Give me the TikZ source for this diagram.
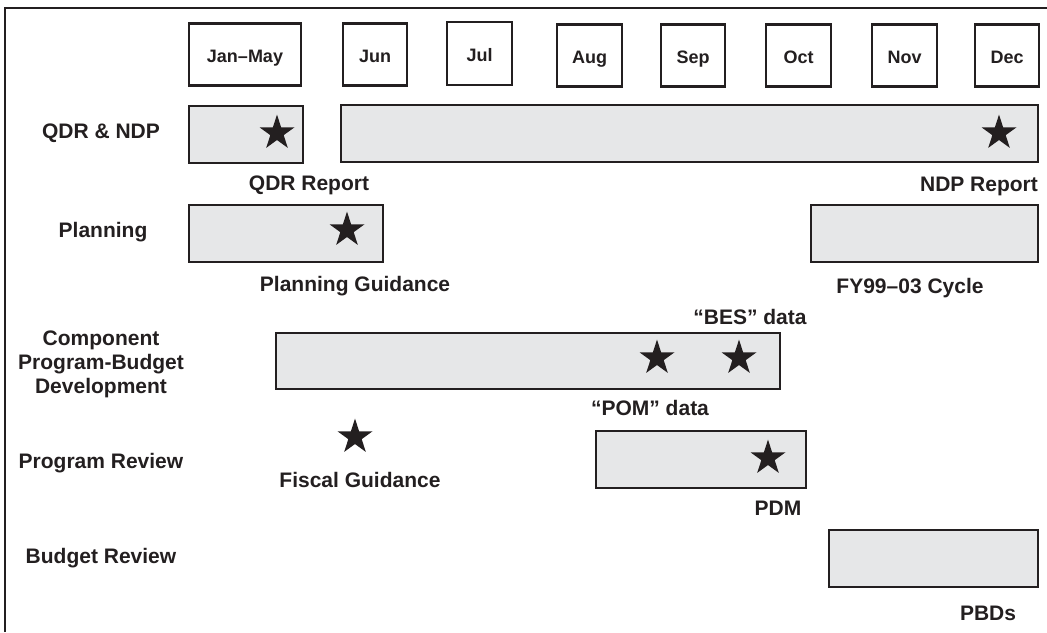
\documentclass[tikz,border=0pt]{standalone}
\usepackage{fontspec}
\setmainfont{Liberation Sans}
\usetikzlibrary{shapes.geometric}
\pgfdeclarelayer{edgelayer}
\pgfdeclarelayer{nodelayer}
\pgfsetlayers{edgelayer,nodelayer,main}
\definecolor{ink}{HTML}{231F20}
\definecolor{barfill}{HTML}{E6E7E8}
\tikzstyle{month}=[rectangle,draw=ink,line width=1.1pt,fill=white,minimum height=31pt,inner sep=0pt,text height=8pt,text depth=0pt,font=\fontsize{9}{10}\selectfont\bfseries,text=ink]
\tikzstyle{bar}=[rectangle,draw=ink,line width=1.1pt,fill=barfill,minimum height=28.5pt,inner sep=0pt]
\tikzstyle{milestone}=[star,star points=5,star point ratio=2.618,fill=ink,minimum size=18.4pt,inner sep=0pt]
\tikzstyle{rowlabel}=[align=center,font=\fontsize{10.5}{12}\selectfont\bfseries,text=ink,inner sep=0pt]
\tikzstyle{event}=[font=\fontsize{10.5}{12}\selectfont\bfseries,text=ink,inner sep=0pt,text height=7.5pt,text depth=0pt]
\tikzstyle{frame}=[-,draw=ink,line width=1.3pt]

\begin{document}
\begin{tikzpicture}[x=0.5pt,y=-0.5pt]
	\useasboundingbox (0, 0) rectangle (1047, 632);
	\draw [style=frame] (5, 632) |- (1047, 8);
	% months
	\begin{pgfonlayer}{nodelayer}
		\node [style=month, minimum width=56pt] (janmay) at (245, 54.5) {Jan--May};
		\node [style=month, minimum width=32pt] (jun) at (375, 54.5) {Jun};
		\node [style=month, minimum width=32.5pt, minimum height=31.5pt] (jul) at (479.5, 53.5) {Jul};
		\node [style=month, minimum width=32.5pt] (aug) at (589.5, 55.5) {Aug};
		\node [style=month, minimum width=32pt] (sep) at (693, 55.5) {Sep};
		\node [style=month, minimum width=32.5pt] (oct) at (798.5, 55.5) {Oct};
		\node [style=month, minimum width=32.5pt] (nov) at (904.5, 55.5) {Nov};
		\node [style=month, minimum width=32pt] (dec) at (1007, 55.5) {Dec};
	\end{pgfonlayer}
	% row labels
	\node [style=rowlabel] (qdrndp) at (101, 133) {QDR \& NDP};
	\node [style=rowlabel] (planning) at (103, 232) {Planning};
	\node [style=rowlabel] (component) at (101, 364) {Component\\Program-Budget\\Development};
	\node [style=rowlabel] (progreview) at (101, 463) {Program Review};
	\node [style=rowlabel] (budgreview) at (101, 558) {Budget Review};
	% bars
	\begin{pgfonlayer}{edgelayer}
		\node [style=bar, minimum width=57pt] (qdrbar) at (246, 134.5) {};
		\node [style=bar, minimum width=348.5pt] (ndpbar) at (689.5, 133.5) {};
		\node [style=bar, minimum width=97pt] (planbar) at (286, 233.5) {};
		\node [style=bar, minimum width=113.5pt] (cyclebar) at (924.5, 233.5) {};
		\node [style=bar, minimum width=252pt, minimum height=28pt] (compbar) at (528, 361) {};
		\node [style=bar, minimum width=105pt] (progbar) at (701, 459.5) {};
		\node [style=bar, minimum width=104.5pt] (budgbar) at (933.5, 558.5) {};
	\end{pgfonlayer}
	% milestones
	\begin{pgfonlayer}{nodelayer}
		\node [style=milestone] (qdrstar) at (277, 133) {};
		\node [style=milestone] (ndpstar) at (999, 133) {};
		\node [style=milestone] (planstar) at (347, 230) {};
		\node [style=milestone] (pomstar) at (657, 358) {};
		\node [style=milestone] (besstar) at (739, 358) {};
		\node [style=milestone] (fiscalstar) at (355, 437) {};
		\node [style=milestone] (pdmstar) at (768, 458) {};
	\end{pgfonlayer}
	% event labels
	\node [style=event] (qdrreport) at (309, 183) {QDR Report};
	\node [style=event] (ndpreport) at (979, 184) {NDP Report};
	\node [style=event] (planguid) at (355, 284) {Planning Guidance};
	\node [style=event] (cycle) at (910, 286) {FY99--03 Cycle};
	\node [style=event] (besdata) at (750, 317) {``BES'' data};
	\node [style=event] (pomdata) at (650, 408) {``POM'' data};
	\node [style=event] (fiscalguid) at (360, 480) {Fiscal Guidance};
	\node [style=event] (pdm) at (778, 508) {PDM};
	\node [style=event] (pbds) at (988, 613) {PBDs};
\end{tikzpicture}
\end{document}
